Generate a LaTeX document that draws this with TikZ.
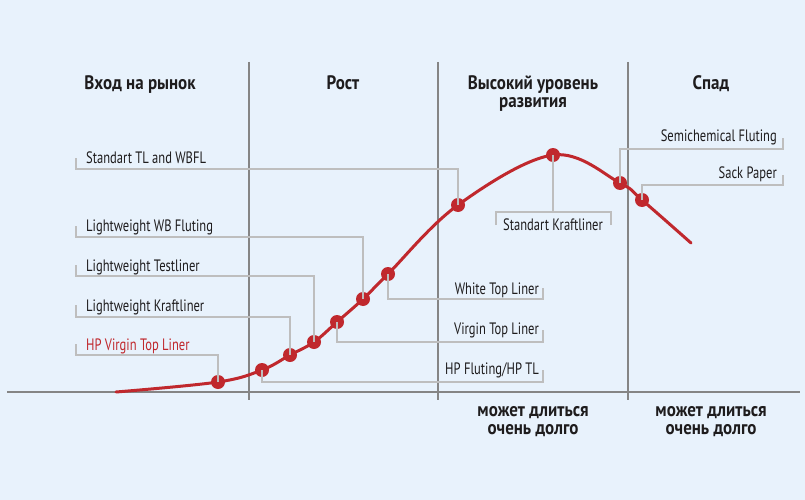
\documentclass[tikz,border=0pt]{standalone}
\usepackage{fontspec}
\setmainfont{PT Sans}[FakeStretch=0.76]
\newfontfamily\headfont{PT Sans Bold}[FakeStretch=0.87]
\definecolor{bg}{HTML}{E8F2FC}
\definecolor{curvered}{HTML}{C0282D}
\definecolor{leadgray}{HTML}{BEBEBE}
\definecolor{axisgray}{HTML}{858585}
\definecolor{txt}{HTML}{1E1C1D}
\tikzset{
  dot/.style={circle, fill=curvered, inner sep=0pt, minimum size=14pt},
  lead/.style={draw=leadgray, line width=2pt},
  lbl/.style={font=\fontsize{16.5}{18}\selectfont, text=txt, inner sep=0pt},
  head/.style={font=\headfont\fontsize{19.5}{18}\selectfont, text=txt, align=center, inner sep=0pt},
  stageline/.style={draw=axisgray, line width=2pt}
}
\begin{document}
\begin{tikzpicture}[x=1pt,y=-1pt]
  \fill[bg] (0,0) rectangle (805,500);
  \useasboundingbox (0,0) rectangle (805,500);
  % stages and axis
  \draw[stageline] (7,392) -- (800,392);
  \foreach \x in {249,438,628}
    \draw[stageline] (\x,62) -- (\x,400);
  \node[head, anchor=base] (hEntry) at (140,90) {Вход на рынок};
  \node[head, anchor=base] (hGrowth) at (343,90) {Рост};
  \node[head, anchor=base] (hMature) at (533,108) {Высокий уровень\\развития};
  \node[head, anchor=base] (hDecline) at (711,90) {Спад};
  \node[head, anchor=base] (fMature) at (533,434) {может длиться\\очень долго};
  \node[head, anchor=base] (fDecline) at (711,434) {может длиться\\очень долго};
  % life cycle curve
  \draw[curvered, line width=3pt, line cap=round] plot[smooth, tension=0.6] coordinates {
    (116,392) (218,382) (262,370) (290,355) (314,342) (337,322) (363,299)
    (388,274) (458,205) (553,155) (620,183) (642,200) (691,243)};
  \node[dot] (dHPV) at (218,382) {};
  \node[dot] (dHPF) at (262,370) {};
  \node[dot] (dLWK) at (290,355) {};
  \node[dot] (dLWT) at (314,342) {};
  \node[dot] (dVTL) at (337,322) {};
  \node[dot] (dLWF) at (363,299) {};
  \node[dot] (dWTL) at (388,274) {};
  \node[dot] (dSTL) at (458,205) {};
  \node[dot] (dSKL) at (553,155) {};
  \node[dot] (dSCF) at (620,183) {};
  \node[dot] (dSPA) at (642,200) {};
  % labels
  \node[lbl, anchor=base west] (tSTL) at (86,163) {Standart TL and WBFL};
  \node[lbl, anchor=base west] (tLWF) at (86,231) {Lightweight WB Fluting};
  \node[lbl, anchor=base west] (tLWT) at (86,271) {Lightweight Testliner};
  \node[lbl, anchor=base west] (tLWK) at (86,311) {Lightweight Kraftliner};
  \node[lbl, anchor=base west, text=curvered] (tHPV) at (86,350) {HP Virgin Top Liner};
  \node[lbl, anchor=base east] (tWTL) at (539,294) {White Top Liner};
  \node[lbl, anchor=base east] (tVTL) at (539,334) {Virgin Top Liner};
  \node[lbl, anchor=base east] (tHPF) at (539,374) {HP Fluting/HP TL};
  \node[lbl, anchor=base] (tSKL) at (553,230) {Standart Kraftliner};
  \node[lbl, anchor=base east] (tSCF) at (777,142) {Semichemical Fluting};
  \node[lbl, anchor=base east] (tSPA) at (777,178) {Sack Paper};
  % leaders
  \coordinate (kSTL) at (76,158);
  \coordinate (kLWF) at (76,226);
  \coordinate (kLWT) at (76,265);
  \coordinate (kLWK) at (76,305);
  \coordinate (kHPV) at (76,344);
  \coordinate (kWTL) at (543,288);
  \coordinate (kVTL) at (543,330);
  \coordinate (kHPF) at (543,370);
  \coordinate (kSCF) at (783,138);
  \coordinate (kSPA) at (783,175);
  \draw[lead] (dSTL.center) |- (76,169) -- (kSTL);
  \draw[lead] (dLWF.center) |- (76,237) -- (kLWF);
  \draw[lead] (dLWT.center) |- (76,276) -- (kLWT);
  \draw[lead] (dLWK.center) |- (76,317) -- (kLWK);
  \draw[lead] (dHPV.center) |- (76,355) -- (kHPV);
  \draw[lead] (dWTL.center) |- (543,299) -- (kWTL);
  \draw[lead] (dVTL.center) |- (543,342) -- (kVTL);
  \draw[lead] (dHPF.center) |- (543,382) -- (kHPF);
  \draw[lead] (dSCF.center) |- (783,149) -- (kSCF);
  \draw[lead] (dSPA.center) |- (783,185) -- (kSPA);
  \draw[lead] (dSKL.center) -- (553,212);
  \draw[lead] (496,225) |- (611,212) -- (611,225);
\end{tikzpicture}
\end{document}
